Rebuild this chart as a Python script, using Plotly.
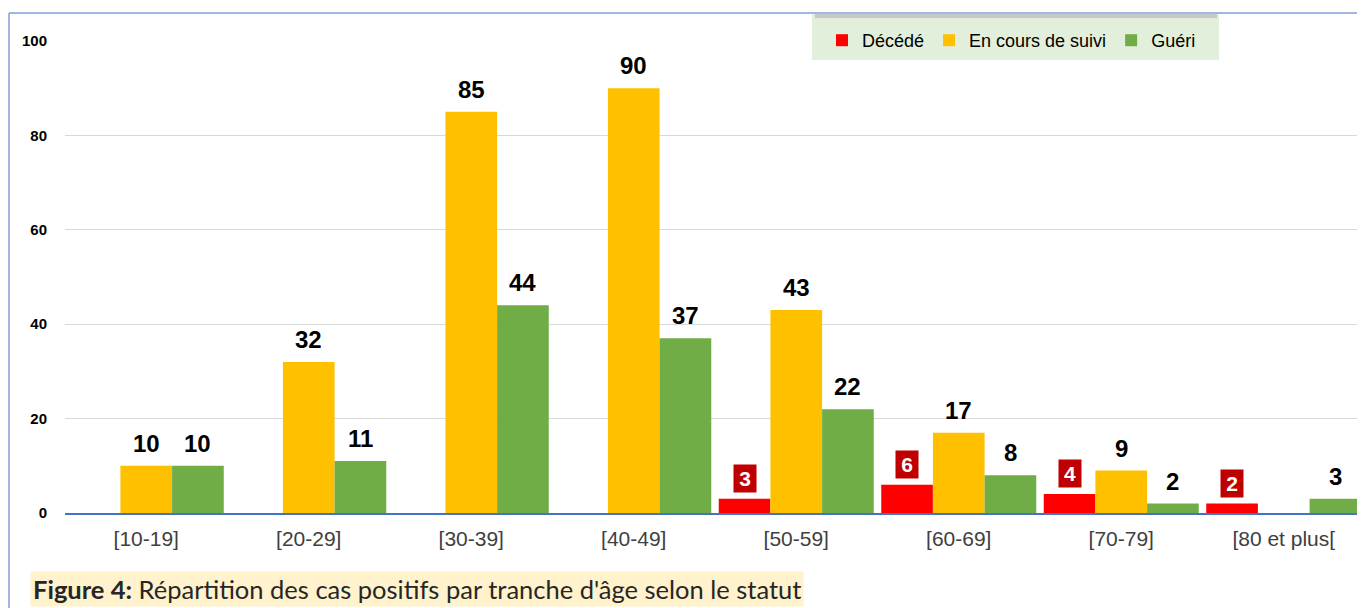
import plotly.graph_objects as go

categories = ["[10-19]", "[20-29]", "[30-39]", "[40-49]", "[50-59]", "[60-69]", "[70-79]", "[80 et plus["]
decede = [0, 0, 0, 0, 3, 6, 4, 2]
en_cours = [10, 32, 85, 90, 43, 17, 9, 0]
gueri = [10, 11, 44, 37, 22, 8, 2, 3]
y_ticks = [0, 20, 40, 60, 80, 100]

series = [
    ("Décédé", decede, "#FF0000"),
    ("En cours de suivi", en_cours, "#FFC000"),
    ("Guéri", gueri, "#70AD47"),
]

# page has an 8px body margin: work in page pixels, then offset
OFF = 8
W, H = 1365 - OFF, 608 - OFF
ML, MR, MT, MB = 65 - OFF, 0, 41 - OFF, 95
plot_w = W - ML - MR
plot_h = H - MT - MB
BARGAP = 0.046
bar_px = plot_w / len(categories) * (1 - BARGAP) / 3

LBL = "Liberation Sans Narrow, Arial Narrow, Liberation Sans, Arial"


def px_x(p):  # page pixel -> paper x
    return (p - OFF - ML) / plot_w


def px_y(p):  # page pixel -> paper y
    return (MT + plot_h - (p - OFF)) / plot_h


fig = go.Figure()
for name, vals, col in series:
    fig.add_trace(go.Bar(x=categories, y=vals, name=name, marker=dict(color=col, line=dict(width=0))))

annotations = []
for i, (name, vals, col) in enumerate(series):
    shift = (i - 1) * bar_px
    for c, v in zip(categories, vals):
        if v == 0:
            continue
        if name == "Décédé":
            annotations.append(dict(x=c, y=v, xref="x", yref="y", text=f"<b>{v}</b>", showarrow=False,
                                    xshift=shift, yshift=6, yanchor="bottom",
                                    font=dict(family=LBL, size=21, color="white"),
                                    bgcolor="#C00000", borderpad=2, width=18))
        else:
            annotations.append(dict(x=c, y=v, xref="x", yref="y", text=f"<b>{v}</b>", showarrow=False,
                                    xshift=shift, yshift=7, yanchor="bottom",
                                    font=dict(family=LBL, size=24, color="black")))

# caption
annotations.append(dict(x=px_x(30), y=px_y(589), xref="paper", yref="paper",
                        xanchor="left", yanchor="middle", showarrow=False,
                        text="<b>Figure 4:</b> Répartition des cas positifs par tranche d'âge selon le statut",
                        font=dict(family="Lato, Open Sans, sans-serif", size=25.5, color="#262626"),
                        bgcolor="#FFF2CC", borderpad=2))

shapes = [
    dict(type="line", xref="paper", yref="paper", x0=px_x(9), x1=px_x(9), y0=px_y(13), y1=px_y(608),
         line=dict(color="#7F9FD8", width=1.5)),
    dict(type="line", xref="paper", yref="paper", x0=px_x(9), x1=px_x(1365), y0=px_y(13), y1=px_y(13),
         line=dict(color="#7F9FD8", width=1.5)),
    dict(type="rect", xref="paper", yref="paper", x0=px_x(812), x1=px_x(1219), y0=px_y(60), y1=px_y(14),
         fillcolor="#E2EFDA", line=dict(width=0), layer="above"),
    dict(type="rect", xref="paper", yref="paper", x0=px_x(815), x1=px_x(1217), y0=px_y(18), y1=px_y(14),
         fillcolor="#C8C8C8", line=dict(width=0), layer="above"),
]

fig.update_layout(
    width=W, height=H,
    margin=dict(l=ML, r=MR, t=MT, b=MB),
    paper_bgcolor="white", plot_bgcolor="white",
    barmode="group", bargap=BARGAP, bargroupgap=0,
    font=dict(family="Liberation Sans, Arial", color="black"),
    showlegend=True,
    legend=dict(orientation="h", x=px_x(822), y=px_y(22), xanchor="left", yanchor="top",
                bgcolor="rgba(0,0,0,0)", font=dict(family=LBL, size=18, color="black"),
                itemwidth=30, traceorder="normal"),
    annotations=annotations,
    shapes=shapes,
)
fig.update_xaxes(showgrid=False, showline=True, linecolor="#4472C4", linewidth=2,
                 tickfont=dict(family="Liberation Sans, Arial", size=21, color="#404040"),
                 ticks="", ticklabelstandoff=6)
fig.update_yaxes(range=[0, 100], tickvals=y_ticks, ticktext=[f"<b>{v}</b>" for v in y_ticks],
                 showgrid=True, gridcolor="#D9D9D9", gridwidth=1,
                 zeroline=False, showline=False,
                 tickfont=dict(family="Liberation Sans, Arial", size=15, color="black"),
                 ticklabelstandoff=17)

fig.write_html("out.html")
